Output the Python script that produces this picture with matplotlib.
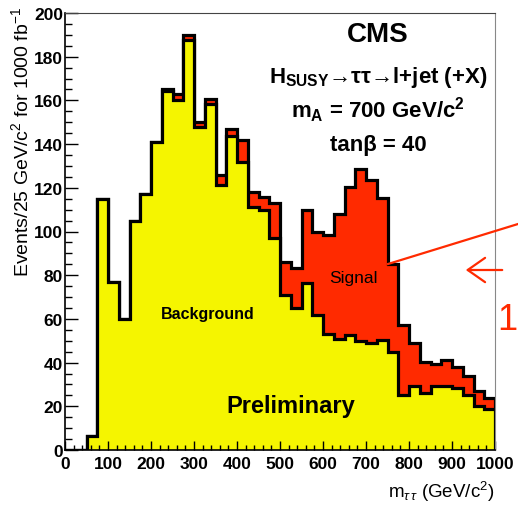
import numpy as np
import matplotlib
matplotlib.use("Agg")
import matplotlib.pyplot as plt
import matplotlib.ticker as mticker
from matplotlib.lines import Line2D
from matplotlib.patches import FancyArrowPatch

plt.rcParams['font.family'] = ['Liberation Sans', 'DejaVu Sans']
plt.rcParams['mathtext.fontset'] = 'custom'
plt.rcParams['mathtext.rm'] = 'Liberation Sans'
plt.rcParams['mathtext.it'] = 'Liberation Sans:italic'
plt.rcParams['mathtext.bf'] = 'Liberation Sans:bold'

# m_tautau bins, 25 GeV wide, 0..1000
bin_edges = np.arange(0, 1001, 25)

# background only (yellow)
background = [0, 0, 6.4, 115, 77, 60, 105, 117, 141, 164.5,
              160, 187.5, 148, 158.5, 121.5, 143.5, 132, 111, 110, 97,
              71, 65, 76.5, 62, 53, 51, 52.5, 50, 49, 50.5,
              45, 25, 29.5, 26, 29.5, 29.5, 28.5, 25, 20.2, 18.7]

# signal + background (red on top)
total = [0, 0, 6.4, 115, 77, 60, 105, 117, 141, 165,
         163, 190, 150, 160.5, 126, 147, 142, 118, 116, 113,
         86, 83.5, 110, 100, 98.5, 108, 120.5, 128.5, 123.5, 115.5,
         85, 57, 49, 40.5, 39.5, 41, 38, 34, 27, 24]

YELLOW = '#f5f500'
RED = '#ff2a00'

W, H = 518, 506
fig = plt.figure(figsize=(W / 100, H / 100), dpi=100)
ax = fig.add_axes([65 / W, 1 - 451 / H, 430 / W, 437 / H])

# signal+bkg first, then background over it (ROOT style stack)
ax.stairs(total, bin_edges, fill=True, color=RED, lw=0)
ax.stairs(total, bin_edges, baseline=0, color='black', lw=2.3)
ax.stairs(background, bin_edges, fill=True, color=YELLOW, lw=0)
ax.stairs(background, bin_edges, baseline=0, color='black', lw=2.3)

ax.set_xlim(0, 1000)
ax.set_ylim(0, 200)
ax.set_xticks(range(0, 1001, 100))
ax.set_yticks(range(0, 201, 20))
ax.xaxis.set_minor_locator(mticker.MultipleLocator(20))
ax.yaxis.set_minor_locator(mticker.MultipleLocator(5))
ax.tick_params(axis='x', which='major', direction='in', length=6.5, width=1, pad=4)
ax.tick_params(axis='x', which='minor', direction='in', length=3.5, width=1)
ax.tick_params(axis='y', which='major', direction='in', length=9.5, width=1, pad=1.5)
ax.tick_params(axis='y', which='minor', direction='in', length=5, width=1)
for lab in ax.get_xticklabels() + ax.get_yticklabels():
    lab.set_fontsize(12.5)
    lab.set_fontweight('bold')

ax.spines['left'].set_linewidth(1.2)
ax.spines['bottom'].set_linewidth(1.2)
ax.spines['top'].set_color('#444444')
ax.spines['right'].set_color('#888888')

ax.set_ylabel(r"Events/25 GeV/c$^2$ for 1000 fb$^{-1}$", fontsize=14, loc='top')
ax.yaxis.set_label_coords(-0.076, 1.016)
ax.set_xlabel(r"m$_{\tau\,\tau}$ (GeV/c$^2$)", fontsize=13.5, loc='right')
ax.xaxis.set_label_coords(1.0, -0.093)
ax.xaxis.label.set_va('center')

ax.text(728, 190.5, "CMS", fontsize=20, fontweight='bold', ha='center', va='center')
ax.text(728, 171, r"H$_{\mathbf{SUSY}}$→ττ→l+jet (+X)", fontsize=16,
        fontweight='bold', ha='center', va='center')
ax.text(728, 156, r"m$_{\mathbf{A}}$ = 700 GeV/c$^{\mathbf{2}}$", fontsize=16,
        fontweight='bold', ha='center', va='center')
ax.text(728, 140, "tanβ = 40", fontsize=16, fontweight='bold', ha='center', va='center')
ax.text(670, 79, "Signal", fontsize=12.5, ha='center', va='center')
ax.text(333, 62.5, "Background", fontsize=11.5, fontweight='bold', ha='center', va='center')
ax.text(525, 20.3, "Preliminary", fontsize=17, fontweight='bold', ha='center', va='center')

# slide overlays (red pointer line, arrow, number at the right edge)
fig.add_artist(Line2D([388 / W, 1.0], [1 - 265 / H, 1 - 225 / H], color=RED, lw=1.6))
fig.add_artist(FancyArrowPatch((505 / W, 1 - 271 / H), (463 / W, 1 - 271 / H),
                               transform=fig.transFigure, color=RED, lw=1.6,
                               arrowstyle='->,head_length=0.5,head_width=0.35',
                               mutation_scale=25))
fig.text(0.999, 1 - 321 / H, "1", color=RED, fontsize=26, ha='right', va='center')

fig.savefig("out.png", dpi=100)
